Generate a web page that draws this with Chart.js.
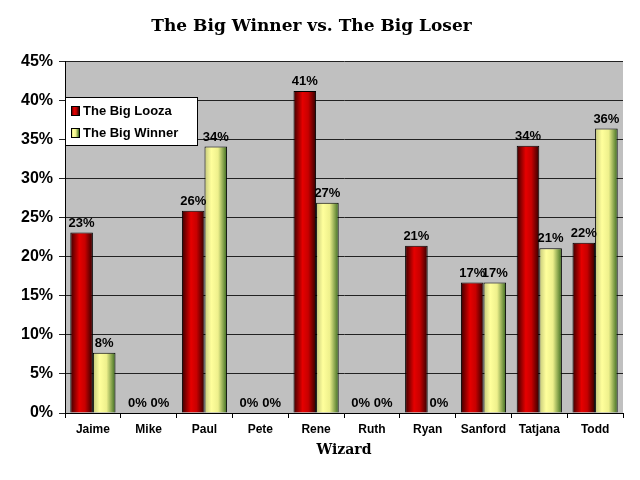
<!DOCTYPE html>
<html>
<head>
<meta charset="utf-8">
<script src="https://cdn.jsdelivr.net/npm/chart.js@4/dist/chart.umd.min.js"></script>
<style>
  html, body { margin: 0; padding: 0; background: #fff; }
  #wrap { width: 640px; height: 480px; }
</style>
</head>
<body>
<div id="wrap"><canvas id="chart" width="640" height="480"></canvas></div>
<script>
(function () {
    // Datos del gráfico
    const wizards = ["Jaime", "Mike", "Paul", "Pete", "Rene", "Ruth", "Ryan", "Sanford", "Tatjana", "Todd"];
    const bigLooza = [23.1, 0, 25.9, 0, 41.2, 0, 21.4, 16.7, 34.2, 21.8];
    const bigWinner = [7.7, 0, 34.1, 0, 26.9, 0, 0, 16.7, 21.1, 36.4];
    const yTicks = [0, 5, 10, 15, 20, 25, 30, 35, 40, 45];

    const CAT_PCT = 0.81;

    // Degradados horizontales para cada barra
    const redStops = [[0, "#3a0000"], [0.4, "#e60000"], [0.65, "#c80000"], [1, "#300000"]];
    const yellowStops = [[0, "#c4c87a"], [0.3, "#ffff9c"], [0.6, "#eef08c"], [1, "#3a6a1e"]];

    function barGradient(stops, fallback, side) {
        return function (ctx) {
            const chart = ctx.chart;
            const xs = chart.scales && chart.scales.x;
            if (!chart.chartArea || !xs || ctx.dataIndex === undefined) return fallback;
            const center = xs.getPixelForValue(ctx.dataIndex);
            const catW = (chart.chartArea.right - chart.chartArea.left) / wizards.length;
            const barW = catW * CAT_PCT / 2;
            const x0 = side === 0 ? center - barW : center;
            const g = chart.ctx.createLinearGradient(x0, 0, x0 + barW, 0);
            stops.forEach(s => g.addColorStop(s[0], s[1]));
            return g;
        };
    }

    // Fondo gris del área de trazado
    const plotBg = {
        id: "plotBg",
        beforeDraw(chart) {
            const a = chart.chartArea, c = chart.ctx;
            c.save();
            c.fillStyle = "#c0c0c0";
            c.fillRect(a.left, a.top, a.right - a.left, a.bottom - a.top);
            c.restore();
        }
    };

    // Etiquetas de valor sobre las barras
    const valueLabels = {
        id: "valueLabels",
        afterDatasetsDraw(chart) {
            const c = chart.ctx;
            c.save();
            c.font = "bold 13px 'Liberation Sans', Arial, sans-serif";
            c.fillStyle = "#000";
            c.textAlign = "center";
            c.textBaseline = "bottom";
            chart.data.datasets.forEach((ds, i) => {
                chart.getDatasetMeta(i).data.forEach((bar, j) => {
                    c.fillText(Math.round(ds.data[j]) + "%", bar.x, bar.y - 3);
                });
            });
            c.restore();
        }
    };

    // Leyenda dentro del área de trazado
    const boxLegend = {
        id: "boxLegend",
        afterDraw(chart) {
            const c = chart.ctx, a = chart.chartArea;
            const x = a.left, y = 97, w = 132, h = 48;
            c.save();
            c.fillStyle = "#fff";
            c.fillRect(x, y, w, h);
            c.strokeStyle = "#000";
            c.lineWidth = 1;
            c.strokeRect(x + 0.5, y + 0.5, w, h);
            const items = [["The Big Looza", redStops], ["The Big Winner", yellowStops]];
            c.font = "bold 13px 'Liberation Sans', Arial, sans-serif";
            c.textBaseline = "middle";
            items.forEach((it, i) => {
                const yy = y + 13 + i * 22;
                const g = c.createLinearGradient(x + 6, 0, x + 14, 0);
                it[1].forEach(s => g.addColorStop(s[0], s[1]));
                c.fillStyle = g;
                c.fillRect(x + 6, yy - 4, 8, 9);
                c.strokeRect(x + 6.5, yy - 3.5, 8, 9);
                c.fillStyle = "#000";
                c.fillText(it[0], x + 18, yy + 1);
            });
            c.restore();
        }
    };

    const ctx = document.getElementById("chart").getContext("2d");

    new Chart(ctx, {
        type: "bar",
        data: {
            labels: wizards,
            datasets: [{
                label: "The Big Looza",
                data: bigLooza,
                backgroundColor: barGradient(redStops, "#cc0000", 0),
                borderColor: "#000",
                borderWidth: 1,
                categoryPercentage: CAT_PCT,
                barPercentage: 1
            },
            {
                label: "The Big Winner",
                data: bigWinner,
                backgroundColor: barGradient(yellowStops, "#ffff99", 1),
                borderColor: "#000",
                borderWidth: 1,
                categoryPercentage: CAT_PCT,
                barPercentage: 1
            }]
        },
        options: {
            responsive: false,
            animation: false,
            layout: { padding: { left: 0, right: 17, top: 0, bottom: 21 } },
            plugins: {
                legend: { display: false },
                tooltip: { enabled: false },
                title: {
                    display: true,
                    text: "The Big Winner vs. The Big Loser",
                    color: "#000",
                    font: { family: "'DejaVu Serif', serif", size: 17, weight: "bold" },
                    padding: { top: 16, bottom: 25 }
                }
            },
            scales: {
                x: {
                    grid: { drawOnChartArea: false, color: "#000", tickLength: 5, offset: true },
                    border: { color: "#000" },
                    ticks: {
                        color: "#000",
                        padding: 4,
                        maxRotation: 0,
                        autoSkip: false,
                        font: { family: "'Liberation Sans', Arial, sans-serif", size: 12, weight: "bold" }
                    },
                    title: {
                        display: true,
                        text: "Wizard",
                        color: "#000",
                        padding: { top: 0, bottom: 0 },
                        font: { family: "'DejaVu Serif', serif", size: 14, weight: "bold" }
                    },
                    afterFit(scale) { scale.height = 46; }
                },
                y: {
                    min: 0,
                    max: 45,
                    afterBuildTicks(scale) { scale.ticks = yTicks.map(v => ({ value: v })); },
                    grid: { color: "#222", tickLength: 6 },
                    border: { color: "#000" },
                    ticks: {
                        color: "#000",
                        padding: 6,
                        callback: v => v + "%",
                        font: { family: "'Liberation Sans', Arial, sans-serif", size: 16, weight: "bold" }
                    },
                    afterFit(scale) { scale.width = 65; }
                }
            }
        },
        plugins: [plotBg, valueLabels, boxLegend]
    });
})();
</script>
</body>
</html>
